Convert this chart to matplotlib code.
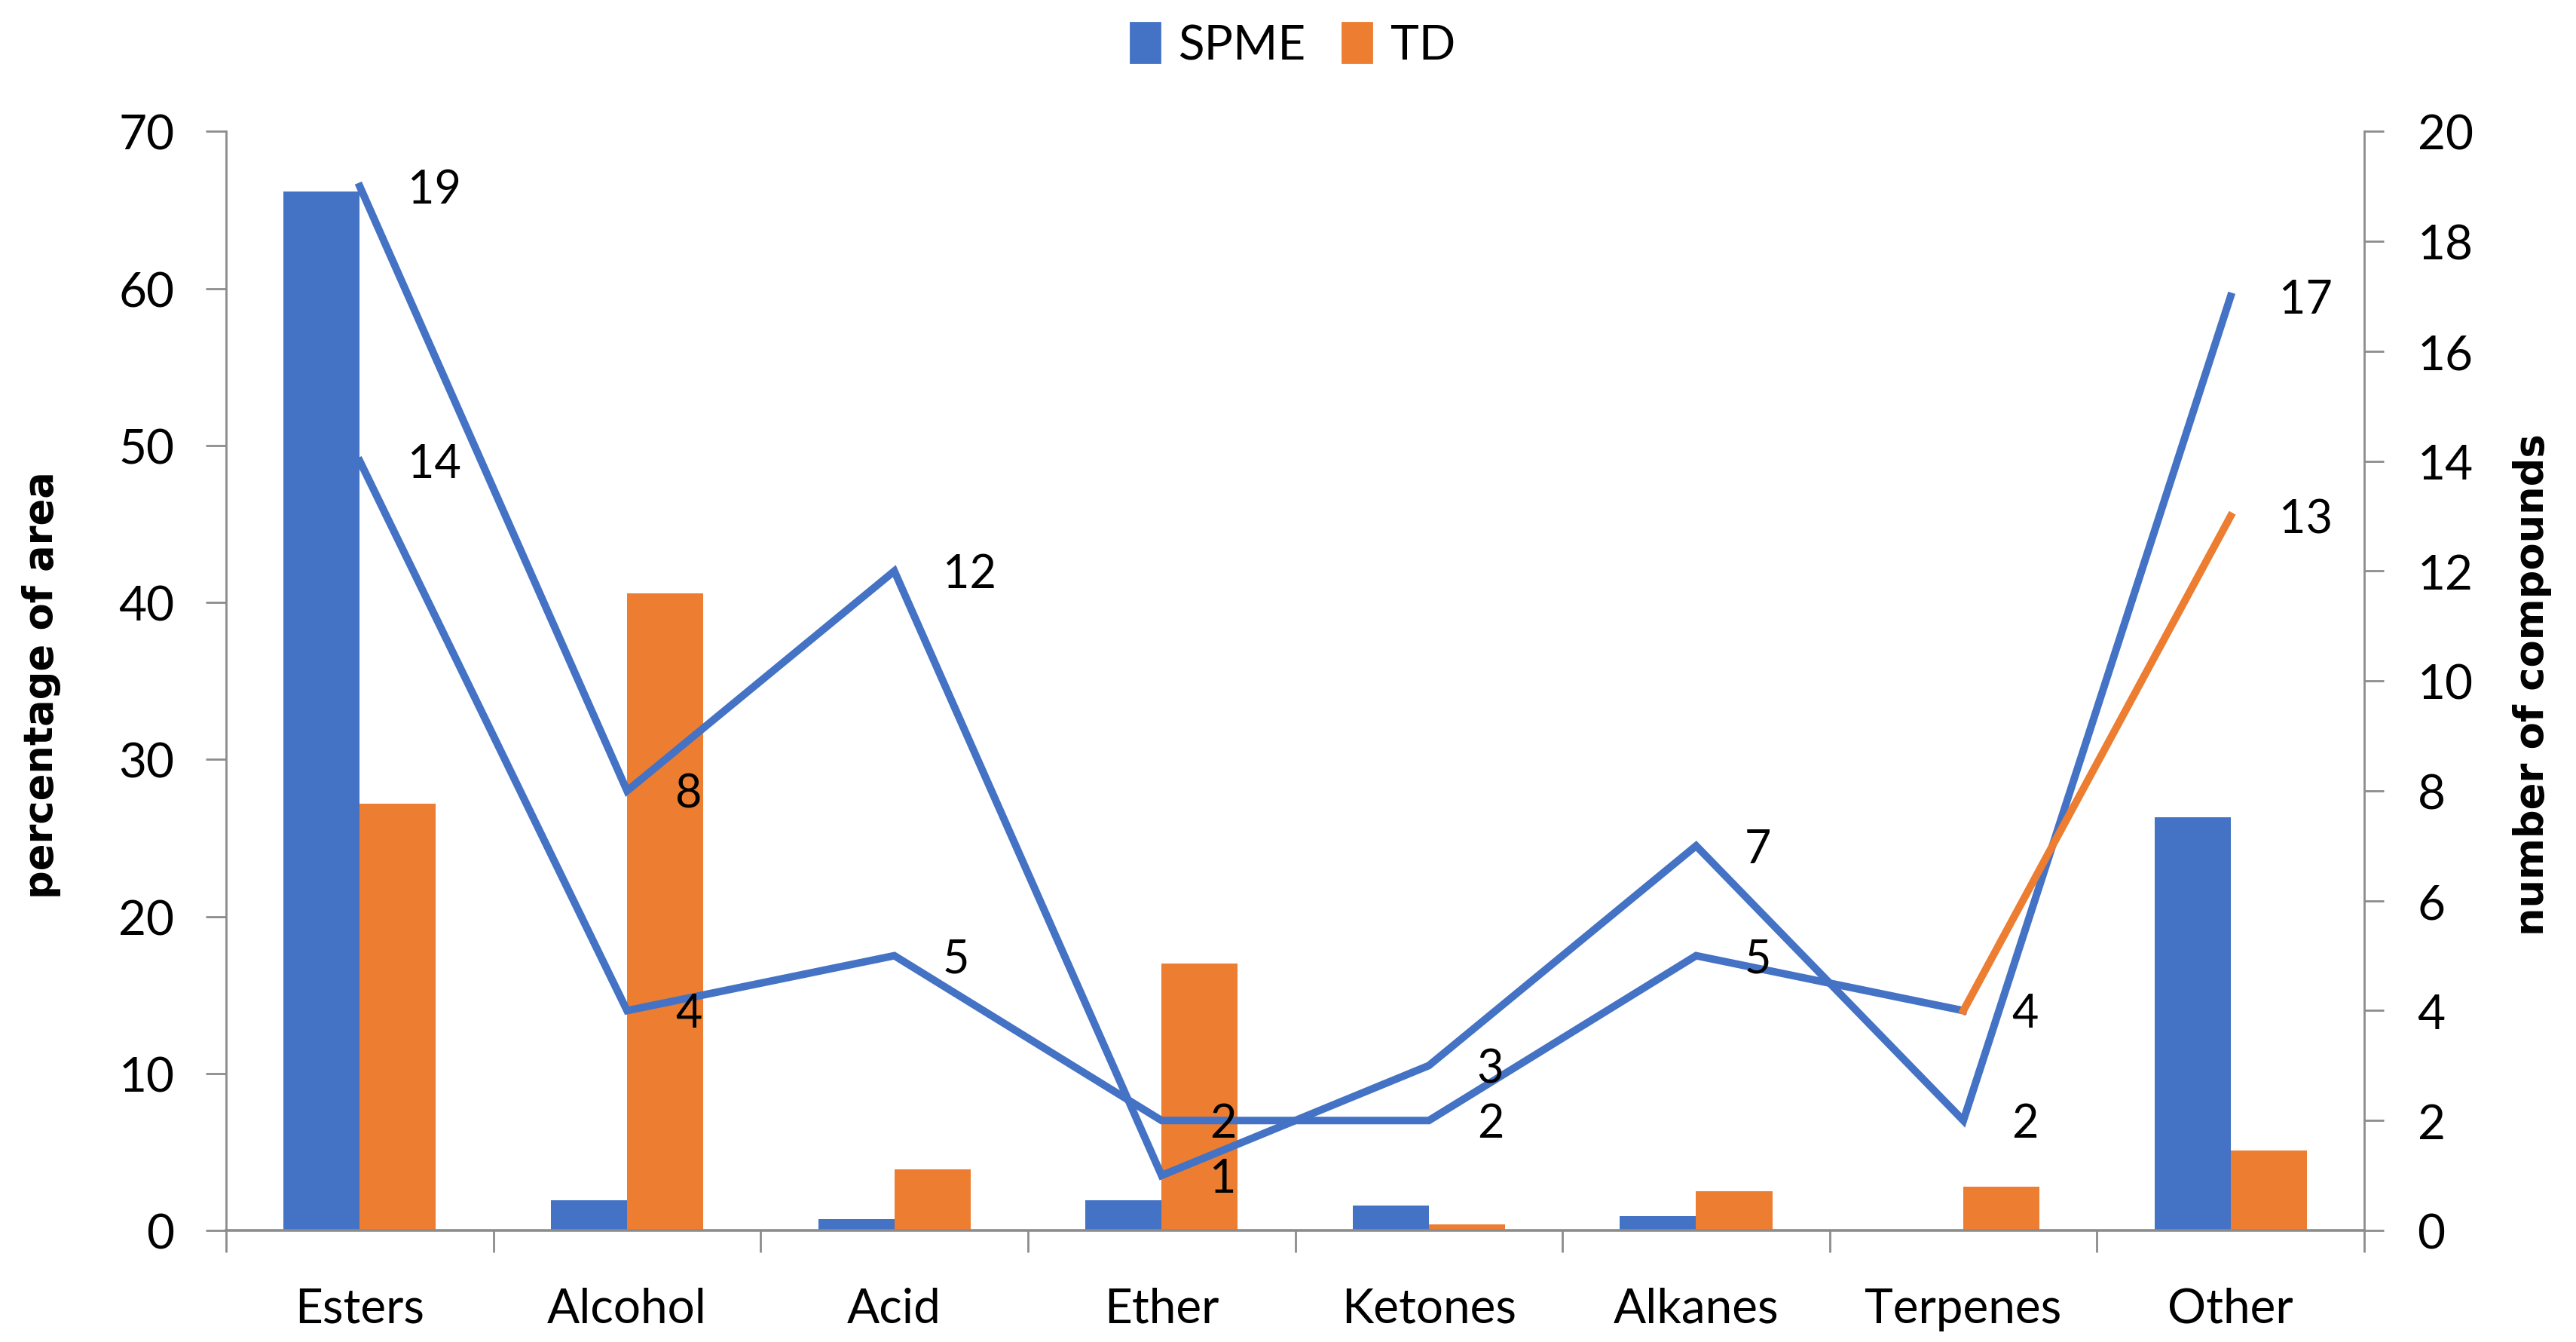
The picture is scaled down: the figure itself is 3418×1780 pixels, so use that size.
import matplotlib
matplotlib.use("Agg")
import matplotlib.pyplot as plt
from matplotlib.patches import Patch
import numpy as np

categories = ["Esters", "Alcohol", "Acid", "Ether", "Ketones", "Alkanes", "Terpenes", "Other"]
spme_area = [66.2, 1.9, 0.7, 1.9, 1.6, 0.9, 0.0, 26.3]
td_area = [27.2, 40.6, 3.9, 17.0, 0.4, 2.5, 2.8, 5.1]
count_a = [19, 8, 12, 1, 3, 7, 2, 17]
count_b = [14, 4, 5, 2, 2, 5, 4, 13]

BLUE = "#4472C4"
ORANGE = "#ED7D31"
GRAY = "#8C8C8C"
FONT = ["Lato", "DejaVu Sans"]

plt.rcParams["font.family"] = FONT

fig = plt.figure(figsize=(17.09, 8.905), dpi=200)
ax = fig.add_axes([0.0878, 0.0831, 0.9178 - 0.0878, 0.9015 - 0.0831])
ax2 = ax.twinx()

x = np.arange(len(categories))
w = 0.285
ax.bar(x - w / 2, spme_area, width=w, color=BLUE, zorder=2)
ax.bar(x + w / 2, td_area, width=w, color=ORANGE, zorder=2)
ax.set_xlim(-0.5, len(categories) - 0.5)
ax.set_ylim(0, 70)
ax.set_yticks(np.arange(0, 71, 10))

ax2.set_ylim(0, 20)
ax2.set_yticks(np.arange(0, 21, 2))
lw = 3.6
ax2.plot(x, count_a, color=BLUE, lw=lw, solid_joinstyle="miter", zorder=3)
ax2.plot(x[:7], count_b[:7], color=BLUE, lw=lw, solid_joinstyle="miter", zorder=3)
ax2.plot(x[6:], count_b[6:], color=ORANGE, lw=lw, zorder=3)

for xi, v in zip(x, count_a):
    ax2.annotate(str(v), (xi, v), xytext=(23, -1.5), textcoords="offset points",
                 ha="left", va="center", fontsize=22, color="black", zorder=5)
for xi, v in zip(x, count_b):
    ax2.annotate(str(v), (xi, v), xytext=(23, -1.5), textcoords="offset points",
                 ha="left", va="center", fontsize=22, color="black", zorder=5)

# spines
for a in (ax, ax2):
    a.spines["top"].set_visible(False)
ax.spines["right"].set_visible(False)
ax2.spines["left"].set_visible(False)
ax2.spines["bottom"].set_visible(False)
ax.spines["left"].set_color(GRAY)
ax.spines["bottom"].set_color(GRAY)
ax2.spines["right"].set_color(GRAY)
ax.spines["left"].set_linewidth(1.0)
ax.spines["bottom"].set_linewidth(1.3)
ax2.spines["right"].set_linewidth(1.0)

ax.tick_params(axis="y", direction="out", length=9.7, width=1.0, color=GRAY,
               labelsize=23, pad=15)
ax2.tick_params(axis="y", direction="out", length=9.4, width=1.0, color=GRAY,
                labelsize=23, pad=16)

ax.set_xticks(x)
ax.set_xticklabels(categories)
ax.tick_params(axis="x", which="major", length=0, labelsize=23, pad=27)
ax.set_xticks(np.arange(-0.5, len(categories)), minor=True)
ax.tick_params(axis="x", which="minor", direction="out", length=10.4, width=1.0, color=GRAY)

fig.text(0.016, 0.49, "percentage of area", rotation=90, ha="center", va="center",
         fontsize=19, fontweight="bold", family="DejaVu Sans")
fig.text(0.983, 0.49, "number of compounds", rotation=90, ha="center", va="center",
         fontsize=19, fontweight="bold", family="DejaVu Sans")

handles = [Patch(color=BLUE), Patch(color=ORANGE)]
fig.legend(handles, ["SPME", "TD"], loc="center", bbox_to_anchor=(0.502, 0.966),
           ncol=2, frameon=False, fontsize=23, handlelength=0.6, handleheight=0.9,
           handletextpad=0.4, columnspacing=0.75)

fig.savefig("out.png", dpi=200)
